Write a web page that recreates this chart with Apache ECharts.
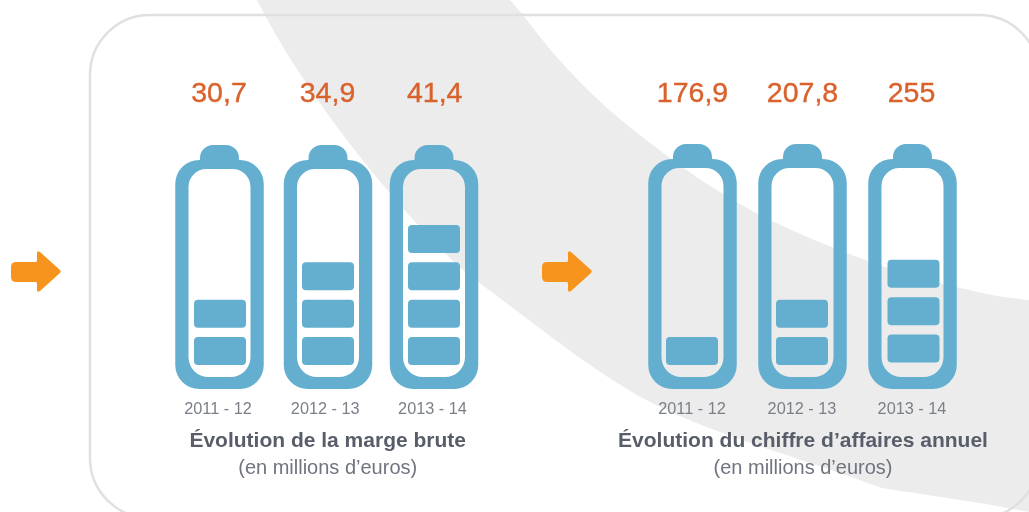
<!DOCTYPE html>
<html>
<head>
<meta charset="utf-8">
<title>Évolution de la marge brute et du chiffre d'affaires</title>
<script src="https://cdn.jsdelivr.net/npm/echarts@6/dist/echarts.min.js"></script>
<style>
  html, body { margin: 0; padding: 0; background: #fff; }
  #chart { width: 1029px; height: 512px; }
</style>
</head>
<body>
<div id="chart"></div>
<script>
// data
const years = ['2011 - 12', '2012 - 13', '2013 - 14'];
const margeValues = [30.7, 34.9, 41.4];
const margeCells = [2, 3, 4];
const caValues = [176.9, 207.8, 255];
const caCells = [1, 2, 3];

const margeTitle = 'Évolution de la marge brute';
const caTitle = 'Évolution du chiffre d’affaires annuel';
const unitText = '(en millions d’euros)';

const font = '"Liberation Sans", Arial, sans-serif';
const blue = '#64afcf';
const orange = '#f7941e';
const rust = '#d9622c';
const swoosh = '#ececec';

// pixels per charge cell is set by the y axis: 0..6 over a 224px grid
function drawBatteries(shellUp, shellNudge, cellNudge, labelNudge) {
    return function (params, api) {
        const i = api.value(0);
        const base = api.coord([i, 0]);
        const c = base[0] + shellNudge[i];
        const y0 = base[1];

        const xl = c - 44.25, xr = c + 44.25;
        const bt = y0 - 205 - shellUp, bot = y0 + 24, capTop = y0 - 220 - shellUp;
        const il = c - 31, ir = c + 31, it = y0 - 196 - shellUp, ib = y0 + 12;
        const r = 24, cw = 19.5, cr = 13, r1 = 18, r2 = 20;

        const shell = [
            'M', xl, bt + r, 'A', r, r, 0, 0, 1, xl + r, bt,
            'L', c - cw, bt, 'L', c - cw, capTop + cr,
            'A', cr, cr, 0, 0, 1, c - cw + cr, capTop,
            'L', c + cw - cr, capTop,
            'A', cr, cr, 0, 0, 1, c + cw, capTop + cr,
            'L', c + cw, bt, 'L', xr - r, bt,
            'A', r, r, 0, 0, 1, xr, bt + r,
            'L', xr, bot - r, 'A', r, r, 0, 0, 1, xr - r, bot,
            'L', xl + r, bot, 'A', r, r, 0, 0, 1, xl, bot - r, 'Z',
            'M', il, it + r1, 'L', il, ib - r2,
            'A', r2, r2, 0, 0, 0, il + r2, ib,
            'L', ir - r2, ib, 'A', r2, r2, 0, 0, 0, ir, ib - r2,
            'L', ir, it + r1, 'A', r1, r1, 0, 0, 0, ir - r1, it,
            'L', il + r1, it, 'A', r1, r1, 0, 0, 0, il, it + r1, 'Z'
        ].join(' ');

        const children = [{
            type: 'path',
            shape: { pathData: shell },
            style: { fill: blue }
        }];

        const cells = api.value(1);
        for (let k = 0; k < cells; k++) {
            const bottom = api.coord([i, k])[1];
            children.push({
                type: 'rect',
                shape: { x: c + cellNudge[i][0] - 26, y: bottom - 28 + cellNudge[i][1], width: 52, height: 28, r: 4 },
                style: { fill: blue }
            });
        }

        children.push({
            type: 'text',
            style: {
                x: c + labelNudge[i],
                y: y0 - 270.5,
                text: String(api.value(2)).replace('.', ','),
                fill: rust,
                stroke: rust,
                lineWidth: 0.4,
                font: '28.5px ' + font,
                align: 'center',
                verticalAlign: 'middle'
            }
        });
        return { type: 'group', children: children };
    };
}

function arrow(x) {
    return {
        type: 'path',
        shape: {
            pathData: ['M', x + 5, 262, 'L', x + 25, 262, 'Q', x + 26, 262, x + 26, 260, 'L', x + 26, 253,
                'Q', x + 26, 250, x + 29, 252, 'L', x + 49, 270,
                'Q', x + 50.5, 271.5, x + 49, 273, 'L', x + 29, 291,
                'Q', x + 26, 293, x + 26, 290, 'L', x + 26, 284, 'Q', x + 26, 282, x + 25, 282, 'L', x + 5, 282,
                'Q', x, 282, x, 277, 'L', x, 267, 'Q', x, 262, x + 5, 262, 'Z'].join(' ')
        },
        style: { fill: orange }
    };
}

// page decoration behind the batteries: grey band, panel outline, arrows
function drawBackdrop() {
    return {
        type: 'group',
        children: [
            {
                type: 'path',
                shape: {
                    pathData: 'M257 0 C290 65 340 135 390 193 C415 222 445 257 478 282 ' +
                        'C540 327 600 378 660 407 C720 436 800 458 882 488 C925 495 980 502 1029 512 ' +
                        'L1029 300 C1000 297 985 294 970 290 C920 280 850 258 770 220 ' +
                        'C720 195 680 167 640 135 C600 105 560 65 523 15 L510 0 Z'
                },
                style: { fill: swoosh }
            },
            {
                type: 'rect',
                shape: { x: 90, y: 15, width: 949, height: 503, r: 60 },
                style: { fill: 'none', stroke: '#e0e0e0', lineWidth: 2.5 }
            },
            arrow(11),
            arrow(542)
        ]
    };
}

const chart = echarts.init(document.getElementById('chart'), null, { renderer: 'canvas' });

chart.setOption({
    animation: false,
    backgroundColor: '#fff',
    title: [
        {
            text: margeTitle, subtext: unitText,
            left: 327.7, top: 431, textAlign: 'center', itemGap: 6, padding: 0,
            textStyle: { fontFamily: font, fontSize: 21, fontWeight: 'bold', color: '#575d69' },
            subtextStyle: { fontFamily: font, fontSize: 20, color: '#6f747e' }
        },
        {
            text: caTitle, subtext: unitText,
            left: 803, top: 431, textAlign: 'center', itemGap: 6, padding: 0,
            textStyle: { fontFamily: font, fontSize: 21, fontWeight: 'bold', color: '#575d69' },
            subtextStyle: { fontFamily: font, fontSize: 20, color: '#6f747e' }
        }
    ],
    grid: [
        { left: 165.875, width: 321.75, top: 141, height: 224 },
        { left: 637.5, width: 330, top: 141, height: 224 }
    ],
    xAxis: [0, 1].map(g => ({
        type: 'category',
        gridIndex: g,
        data: years,
        axisLine: { show: false },
        axisTick: { show: false },
        axisLabel: {
            margin: 37,
            fontFamily: font,
            fontSize: 16.3,
            color: '#7a7f88',
            padding: [0, g === 0 ? 3 : 1, 0, 0]
        }
    })),
    yAxis: [0, 1].map(g => ({
        type: 'value',
        gridIndex: g,
        min: 0,
        max: 6,
        show: false
    })),
    series: [
        {
            type: 'custom',
            z: 0,
            silent: true,
            renderItem: drawBackdrop,
            data: [[0, 0]]
        },
        {
            type: 'custom',
            xAxisIndex: 0,
            yAxisIndex: 0,
            renderItem: drawBatteries(0, [0, 1.25, 0], [[0.5, 0], [0, 0], [0, 0]], [-0.5, -0.5, 0.7]),
            encode: { x: 0, y: 1 },
            data: margeCells.map((n, i) => [i, n, margeValues[i]])
        },
        {
            type: 'custom',
            xAxisIndex: 1,
            yAxisIndex: 1,
            renderItem: drawBatteries(1, [0, 0, 0], [[-0.5, 0], [-0.5, 0], [1, -2.5]], [0, 0, -1]),
            encode: { x: 0, y: 1 },
            data: caCells.map((n, i) => [i, n, caValues[i]])
        }
    ]
});
</script>
</body>
</html>
